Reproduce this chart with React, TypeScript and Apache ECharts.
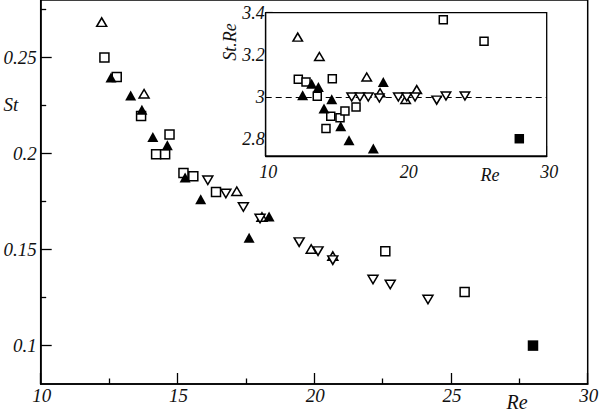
import { useEffect, useRef } from 'react';
import * as echarts from 'echarts';

// ---------- main plot data (Re, St) ----------
const mainOpenSquares = [
  [12.33, 0.25], [12.78, 0.2399], [13.67, 0.2196], [14.71, 0.2099], [14.22, 0.1996],
  [14.55, 0.1996], [15.22, 0.1899], [15.58, 0.1882], [16.41, 0.18], [22.6, 0.1491], [25.5, 0.1279],
];
const mainFilledTriangles = [
  [12.57, 0.2396], [13.29, 0.2303], [13.7, 0.2229], [14.1, 0.2087], [14.63, 0.2043],
  [15.28, 0.1875], [15.85, 0.1762], [17.62, 0.1562], [18.35, 0.1673],
];
const mainOpenTriangles = [
  [12.23, 0.2685], [13.78, 0.2312], [17.17, 0.1804], [18.09, 0.167], [19.89, 0.1503], [20.68, 0.1466],
];
const mainOpenDownTriangles = [
  [16.11, 0.1861], [16.77, 0.1792], [17.41, 0.1722], [18.02, 0.1662], [19.45, 0.1539],
  [20.14, 0.1492], [20.68, 0.1445], [22.15, 0.1344], [22.78, 0.1318], [24.16, 0.124],
];
const mainFilledSquares = [[28.0, 0.1]];

// ---------- inset data (Re, St.Re) ----------
const insetOpenSquares = [
  [12.32, 3.084], [12.87, 3.071], [13.67, 3.003], [14.74, 3.087], [14.29, 2.851],
  [14.63, 2.909], [15.29, 2.901], [15.64, 2.934], [16.43, 2.953], [22.64, 3.367], [25.54, 3.265],
];
const insetFilledTriangles = [
  [12.63, 3.008], [13.27, 3.063], [13.75, 3.047], [14.15, 2.945], [14.7, 2.989],
  [15.34, 2.861], [15.93, 2.795], [17.66, 2.756], [18.37, 3.071],
];
const insetOpenTriangles = [
  [12.28, 3.284], [13.82, 3.192], [17.19, 3.095], [18.14, 3.02], [19.96, 2.988], [20.75, 3.035],
];
const insetOpenDownTriangles = [
  [16.12, 3.0], [16.71, 3.0], [17.3, 3.0], [18.09, 2.995], [19.44, 3.0],
  [20.04, 3.0], [20.63, 3.0], [22.17, 2.985], [22.83, 3.005], [24.18, 3.005],
];
const insetFilledSquares = [[28.05, 2.802]];
const insetReferenceLevel = 3;

// ---------- ticks and labels ----------
const mainXLabels = [10, 15, 20, 25, 30];
const mainYMajor = [0.1, 0.15, 0.2, 0.25];
const mainYMinor = [0.125, 0.175, 0.225, 0.275];
const insetXLabels = [10, 20, 30];
const insetYMajor = [2.8, 3, 3.2, 3.4];
const insetYMinor = [2.75, 2.85, 2.9, 2.95, 3.05, 3.1, 3.15, 3.25, 3.3, 3.35];
const mainXName = 'Re';
const mainYName = 'St';
const insetXName = 'Re';
const insetYName = 'St.Re';

const FONT = 'Liberation Serif';
const INK = '#111';

function series(
  data: number[][], xi: number, yi: number, symbol: string, size: any, filled: boolean, rotate = 0,
  extra: any = {},
) {
  return {
    type: 'scatter',
    xAxisIndex: xi,
    yAxisIndex: yi,
    data,
    symbol,
    symbolSize: size,
    symbolRotate: rotate,
    itemStyle: {
      color: filled ? '#000' : '#fff',
      borderColor: '#000',
      borderWidth: filled ? 0 : 1.5,
      opacity: 1,
    },
    z: 5,
    silent: true,
    ...extra,
  };
}

const axisLine = { show: true, lineStyle: { color: '#000', width: 1.5 } };

const option: any = {
  animation: false,
  backgroundColor: '#fff',
  grid: [
    { left: 40.7, top: 0, right: 11.3, bottom: 29, show: true, borderColor: '#000', borderWidth: 1.5, backgroundColor: 'transparent' },
    { left: 265.7, top: 12.7, right: 52.3, bottom: 257, show: true, borderColor: '#000', borderWidth: 1.3, backgroundColor: '#fff', z: 3 },
  ],
  xAxis: [
    {
      gridIndex: 0, type: 'value', min: 10, max: 30, interval: 5,
      axisLine,
      axisTick: { show: true, inside: true, length: 11, lineStyle: { color: '#000', width: 1.3 } },
      minorTick: { show: true, splitNumber: 2, length: 5.5, lineStyle: { color: '#000', width: 1.3 } },
      splitLine: { show: false },
      axisLabel: { show: false },
    },
    {
      gridIndex: 1, type: 'value', min: 10, max: 30, interval: 5,
      axisLine: { show: true, lineStyle: { color: '#000', width: 1.3 } },
      axisTick: { show: true, inside: true, length: 10, lineStyle: { color: '#000', width: 1.2 } },
      minorTick: { show: true, splitNumber: 2, length: 4.5, lineStyle: { color: '#000', width: 1.2 } },
      splitLine: { show: false },
      axisLabel: { show: false },
    },
  ],
  yAxis: [
    {
      gridIndex: 0, type: 'value', min: 0.08, max: 0.28, position: 'left',
      axisLine,
      axisTick: { show: true, inside: true, length: 11, customValues: mainYMajor, lineStyle: { color: '#000', width: 1.3 } },
      splitLine: { show: false },
      axisLabel: { show: false },
    },
    {
      gridIndex: 0, type: 'value', min: 0.08, max: 0.28, position: 'left', offset: 0,
      axisLine: { show: false },
      axisTick: { show: true, inside: true, length: 5.5, customValues: mainYMinor, lineStyle: { color: '#000', width: 1.3 } },
      splitLine: { show: false },
      axisLabel: { show: false },
    },
    {
      gridIndex: 1, type: 'value', min: 2.72, max: 3.4, position: 'left',
      axisLine: { show: true, lineStyle: { color: '#000', width: 1.3 } },
      axisTick: { show: true, inside: true, length: 7, customValues: insetYMajor, lineStyle: { color: '#000', width: 1.2 } },
      splitLine: { show: false },
      axisLabel: { show: false },
    },
    {
      gridIndex: 1, type: 'value', min: 2.72, max: 3.4, position: 'left', offset: 0,
      axisLine: { show: false },
      axisTick: { show: true, inside: true, length: 5, customValues: insetYMinor, lineStyle: { color: '#000', width: 1.2 } },
      splitLine: { show: false },
      axisLabel: { show: false },
    },
  ],
  series: [
    series(mainOpenSquares, 0, 0, 'rect', 9, false),
    series(mainOpenTriangles, 0, 0, 'triangle', [10, 8.5], false),
    series(mainOpenDownTriangles, 0, 0, 'triangle', [10, 8.5], false, 180),
    series(mainFilledTriangles, 0, 0, 'triangle', [11, 10], true),
    series(mainFilledSquares, 0, 0, 'rect', 10.5, true),
    series(insetOpenSquares, 1, 2, 'rect', 8, false, 0, { z: 6 }),
    series(insetOpenTriangles, 1, 2, 'triangle', [9.5, 8], false, 0, { z: 6 }),
    series(insetOpenDownTriangles, 1, 2, 'triangle', [9.5, 8], false, 180, {
      z: 6,
      markLine: {
        silent: true,
        symbol: ['none', 'none'],
        label: { show: false },
        lineStyle: { color: '#000', type: [6, 4], width: 1.2 },
        data: [{ yAxis: insetReferenceLevel }],
        z: 4,
      },
    }),
    series(insetFilledTriangles, 1, 2, 'triangle', [11, 10], true, 0, { z: 6 }),
    series(insetFilledSquares, 1, 2, 'rect', 9.5, true, 0, { z: 6 }),
  ],
};

function txt(x: number, y: number, text: string, size: number, align: string, rotation = 0) {
  return {
    type: 'text',
    x,
    y,
    rotation,
    z: 10,
    silent: true,
    style: {
      text,
      font: `italic ${size}px '${FONT}'`,
      fill: INK,
      align,
      verticalAlign: 'middle',
      textAlign: align,
      textVerticalAlign: 'middle',
    },
  };
}

export default function App() {
  const ref = useRef<HTMLDivElement>(null);
  useEffect(() => {
    document.body.style.margin = '0';
    const chart = echarts.init(ref.current!, null, { renderer: 'svg' });
    chart.setOption(option);

    const xp = (i: number, v: number) => chart.convertToPixel({ xAxisIndex: i } as any, v) as number;
    const yp = (i: number, v: number) => chart.convertToPixel({ yAxisIndex: i } as any, v) as number;

    const mainAxisX = xp(0, 10);
    const mainAxisY = yp(0, 0.08);
    const insetAxisX = xp(1, 10);
    const insetAxisY = yp(2, 2.72);

    const labels: any[] = [];
    mainXLabels.forEach((v) => labels.push(txt(xp(0, v) + 1, mainAxisY + 11, String(v), 19, 'center')));
    mainYMajor.forEach((v) => labels.push(txt(mainAxisX - 4, yp(0, v), String(v), 19, 'right')));
    insetXLabels.forEach((v) => labels.push(txt(xp(1, v) + 2.5, insetAxisY + 16, String(v), 18, 'center')));
    insetYMajor.forEach((v) => labels.push(txt(insetAxisX - 1, yp(2, v), String(v), 18, 'right')));

    labels.push(txt(11, 104, mainYName, 19, 'center'));
    labels.push(txt(517, mainAxisY + 18, mainXName, 20, 'center'));
    labels.push(txt(490, insetAxisY + 19, insetXName, 18, 'center'));
    labels.push(txt(230, 42, insetYName, 18, 'center', Math.PI / 2));

    chart.setOption({ graphic: labels });
    return () => chart.dispose();
  }, []);
  return (
    <div
      ref={ref}
      style={{ position: 'absolute', left: 0, top: 0, width: 599, height: 413, background: '#fff' }}
    />
  );
}
